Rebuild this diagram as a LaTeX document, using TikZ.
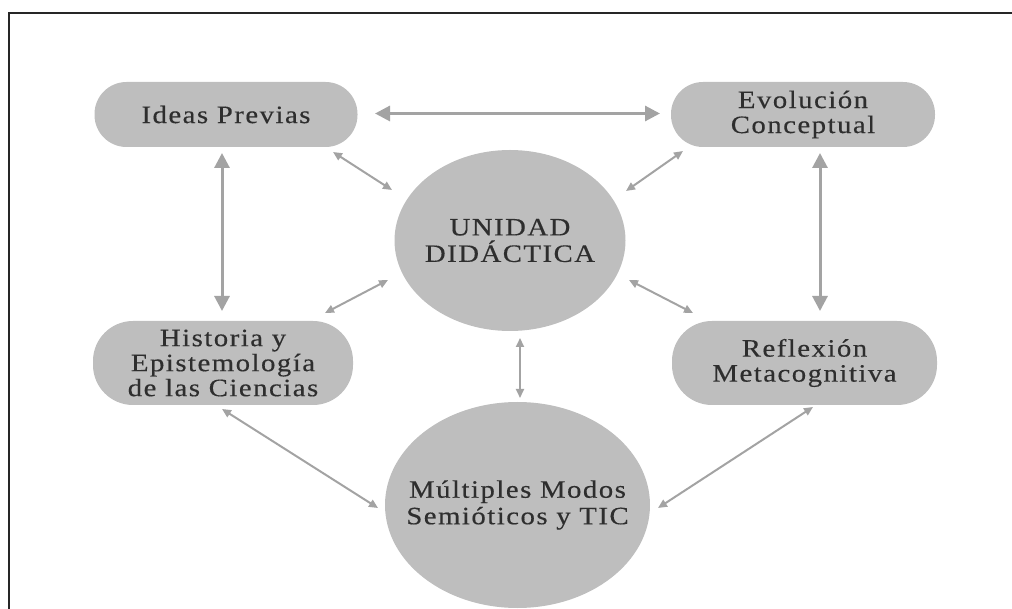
\documentclass[tikz,border=0pt]{standalone}
\usepackage{fontspec}
\setmainfont{Liberation Serif}[FakeStretch=1.15,LetterSpace=6,FakeBold=0.4]
\usetikzlibrary{arrows.meta,shapes.geometric}
\definecolor{boxgray}{HTML}{BEBEBE}
\definecolor{arrgray}{HTML}{A3A3A3}
\definecolor{txtgray}{HTML}{2E2E2E}
\tikzset{
  pill/.style={fill=boxgray, draw=none, inner sep=0pt, align=center, text=txtgray,
    font=\fontsize{25}{25}\selectfont},
  oval/.style={ellipse, fill=boxgray, draw=none, inner sep=-40pt, align=center, text=txtgray,
    font=\fontsize{25}{26.5}\selectfont},
  thickarr/.style={arrgray, line width=3pt, {Triangle[length=15pt,width=15pt]}-{Triangle[length=15pt,width=15pt]}},
  thinarr/.style={arrgray, line width=2pt, {Triangle[length=9pt,width=8pt]}-{Triangle[length=9pt,width=8pt]}},
  frameline/.style={draw=black!85, line width=2.2pt}
}
\begin{document}
\begin{tikzpicture}[x=1pt,y=-1pt]
\useasboundingbox (0,0) rectangle (1012,609);
\draw[frameline] (9,612) -- (9,13) -- (1015,13);

\node[pill, rounded corners=32pt, minimum width=263pt, minimum height=65pt] (ideas) at (226,114.5) {Ideas Previas};
\node[pill, rounded corners=32pt, minimum width=264pt, minimum height=65pt] (evol) at (803,114.5) {Evolución\\Conceptual};
\node[pill, rounded corners=40pt, minimum width=260pt, minimum height=84pt] (hist) at (223,363) {Historia y\\Epistemología\\de las Ciencias};
\node[pill, rounded corners=40pt, minimum width=265pt, minimum height=84pt] (refl) at (804.5,363) {Reflexión\\Metacognitiva};
\node[oval, minimum width=231pt, minimum height=181pt] (unidad) at (510,240.5) {UNIDAD\\DIDÁCTICA};
\node[oval, minimum width=265pt, minimum height=206pt] (mult) at (517.5,505) {Múltiples Modos\\Semióticos y TIC};

\draw[thickarr] ([shift={(149,-1)}]ideas.center) -- ([shift={(-143,-1)}]evol.center);
\draw[thickarr] ([shift={(-4,38.5)}]ideas.center) -- ([shift={(-1,-52)}]hist.center);
\draw[thickarr] ([shift={(17,38.5)}]evol.center) -- ([shift={(15.5,-52)}]refl.center);

\draw[thinarr] ([shift={(107,37.5)}]ideas.center) -- ([shift={(-118,-50.5)}]unidad.center);
\draw[thinarr] ([shift={(-120,36.5)}]evol.center) -- ([shift={(116,-49.5)}]unidad.center);
\draw[thinarr] ([shift={(102,-50)}]hist.center) -- ([shift={(-122,39.5)}]unidad.center);
\draw[thinarr] ([shift={(-111.5,-50)}]refl.center) -- ([shift={(119,39.5)}]unidad.center);
\draw[thinarr] ([shift={(10,97.5)}]unidad.center) -- ([shift={(2.5,-107)}]mult.center);
\draw[thinarr] ([shift={(-1,46)}]hist.center) -- ([shift={(-139.5,3)}]mult.center);
\draw[thinarr] ([shift={(8.5,44)}]refl.center) -- ([shift={(140.5,3)}]mult.center);
\end{tikzpicture}
\end{document}
